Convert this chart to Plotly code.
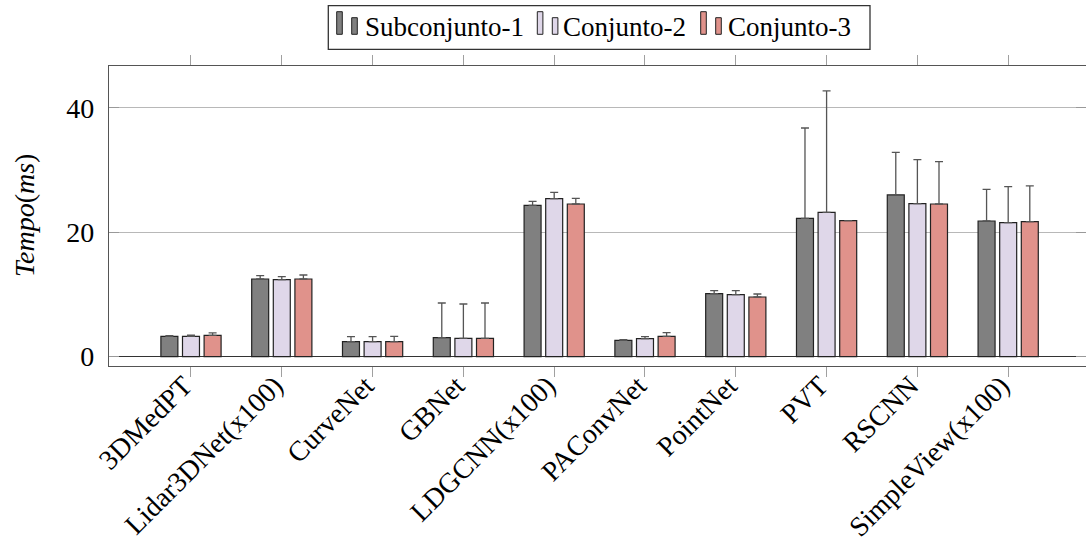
import plotly.graph_objects as go

# Inference time per model and dataset
models = ["3DMedPT", "Lidar3DNet(x100)", "CurveNet", "GBNet", "LDGCNN(x100)",
          "PAConvNet", "PointNet", "PVT", "RSCNN", "SimpleView(x100)"]
series_names = ["Subconjunto-1", "Conjunto-2", "Conjunto-3"]

sub1_mean = [3.27, 12.48, 2.41, 3.05, 24.32, 2.62, 10.12, 22.23, 25.98, 21.80]
sub1_err = [0.10, 0.54, 0.80, 5.57, 0.64, 0.10, 0.48, 14.51, 6.85, 5.09]

conj2_mean = [3.27, 12.37, 2.41, 2.95, 25.39, 2.89, 9.96, 23.19, 24.58, 21.53]
conj2_err = [0.20, 0.48, 0.80, 5.51, 1.02, 0.32, 0.64, 19.50, 7.07, 5.79]

conj3_mean = [3.43, 12.48, 2.41, 2.95, 24.53, 3.27, 9.59, 21.85, 24.53, 21.69]
conj3_err = [0.40, 0.64, 0.86, 5.67, 0.91, 0.59, 0.48, 0.00, 6.80, 5.74]

y_ticks = [0, 20, 40]

colors = ["#808080", "#DFD7E9", "#E0928B"]
means = [sub1_mean, conj2_mean, conj3_mean]
errs = [sub1_err, conj2_err, conj3_err]

FONT = "Liberation Serif"
W, H = 1086, 543
L, R, T, B = 109, 0, 66, 177
plot_w = W - L - R
plot_h = H - T - B


def px_x(p):
    return (p - L) / plot_w


def px_y(p):
    return (H - B - p) / plot_h


fig = go.Figure()
idx = list(range(len(models)))
for name, m, e, c in zip(series_names, means, errs, colors):
    fig.add_trace(go.Bar(
        x=idx, y=m, name=name,
        marker=dict(color=c, line=dict(color="#222222", width=1.2)),
        error_y=dict(type="data", symmetric=False, array=e,
                     arrayminus=[0] * len(e),
                     color="#555555", thickness=1.3, width=4),
        showlegend=False,
    ))

fig.update_layout(
    width=W, height=H,
    margin=dict(l=L, r=R, t=T, b=B, pad=0, autoexpand=False),
    paper_bgcolor="white", plot_bgcolor="white",
    barmode="group", bargap=0.286, bargroupgap=0.214,
    font=dict(family=FONT, size=28, color="black"),
)

fig.update_xaxes(
    range=[-0.903, 9.857], automargin=False,
    tickmode="array", tickvals=idx, ticktext=models,
    tickangle=-45, tickfont=dict(family=FONT, size=28, color="black"),
    ticklabelshift=-7, ticklabelstandoff=-19,
    ticks="outside", ticklen=10, tickcolor="#a0a0a0", tickwidth=1,
    showline=True, linecolor="#555555", linewidth=1.3, mirror="allticks",
    showgrid=False, zeroline=False,
)
fig.update_yaxes(
    range=[-1.5, 46.7], automargin=False,
    tickmode="array", tickvals=y_ticks,
    tickfont=dict(family=FONT, size=28, color="black"),
    ticks="inside", ticklen=10, tickcolor="#999999", tickwidth=1,
    ticklabelstandoff=8,
    showline=True, linecolor="#555555", linewidth=1.3, mirror="ticks",
    showgrid=True, gridcolor="#b8b8b8", gridwidth=1,
    zeroline=True, zerolinecolor="#333333", zerolinewidth=1.3,
)

# y-axis title
fig.add_annotation(
    x=px_x(24), y=0.5, xref="paper", yref="paper",
    text="<i>Tempo</i>(<i>ms</i>)", textangle=-90, showarrow=False,
    font=dict(family=FONT, size=28), xanchor="center", yanchor="middle",
)

# legend box with two-bar swatches
fig.add_shape(type="rect", xref="paper", yref="paper",
              x0=px_x(328.3), x1=px_x(870), y0=px_y(49.3), y1=px_y(5.7),
              line=dict(color="#333333", width=1.3), fillcolor="white")
entry_x = [336.7, 537.3, 700.7]
text_x = [364.3, 562.3, 727.3]
for ex, tx, name, c in zip(entry_x, text_x, series_names, colors):
    fig.add_shape(type="rect", xref="paper", yref="paper",
                  x0=px_x(ex), x1=px_x(ex + 5.6), y0=px_y(34.3), y1=px_y(11.7),
                  line=dict(color="#222222", width=1), fillcolor=c)
    fig.add_shape(type="rect", xref="paper", yref="paper",
                  x0=px_x(ex + 15), x1=px_x(ex + 20.6), y0=px_y(34.3), y1=px_y(17.7),
                  line=dict(color="#222222", width=1), fillcolor=c)
    fig.add_annotation(
        x=px_x(tx), y=px_y(27), xref="paper", yref="paper",
        text=name, showarrow=False, xanchor="left", yanchor="middle",
        font=dict(family=FONT, size=27), borderpad=0,
    )

fig.write_html("out.html")
